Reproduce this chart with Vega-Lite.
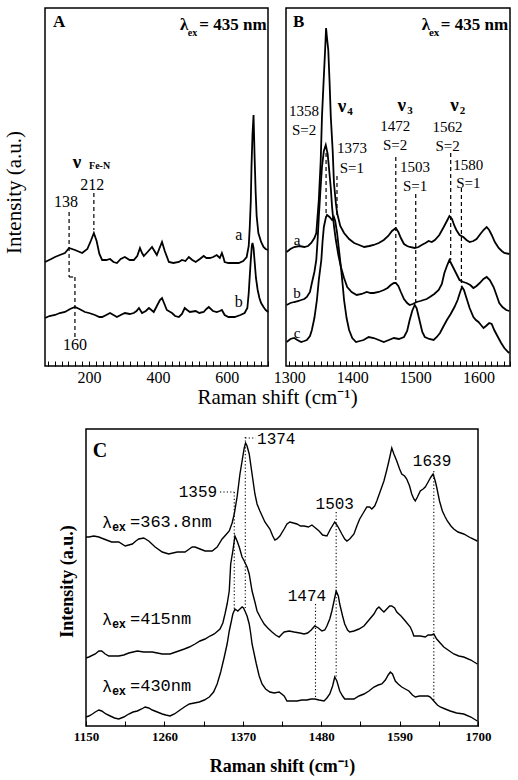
{
  "$schema": "https://vega.github.io/schema/vega-lite/v6.json",
  "background": "white",
  "padding": {"left": 2, "top": 7, "right": 0, "bottom": 0},
  "spacing": 20,
  "config": {
    "view": {"stroke": "black", "strokeWidth": 1.5},
    "axis": {"grid": false, "domain": false, "labelColor": "black", "titleColor": "black", "tickColor": "black", "labelFlush": false, "labelOverlap": false},
    "text": {"color": "black"},
    "line": {"color": "black"}
  },
  "datasets": {
    "specA": [
      {"x":72,"y":104,"s":"a"},{"x":90,"y":107,"s":"a"},{"x":101,"y":109,"s":"a"},{"x":115,"y":111,"s":"a"},{"x":130,"y":113,"s":"a"},{"x":142,"y":118,"s":"a"},{"x":159,"y":116,"s":"a"},{"x":180,"y":113,"s":"a"},{"x":195,"y":117,"s":"a"},{"x":205,"y":125,"s":"a"},{"x":214,"y":133,"s":"a"},{"x":222,"y":125,"s":"a"},{"x":230,"y":112,"s":"a"},{"x":238,"y":106,"s":"a"},{"x":250,"y":106,"s":"a"},{"x":261,"y":107,"s":"a"},{"x":271,"y":104,"s":"a"},{"x":281,"y":103,"s":"a"},{"x":292,"y":107,"s":"a"},{"x":304,"y":109,"s":"a"},{"x":318,"y":106,"s":"a"},{"x":330,"y":106,"s":"a"},{"x":340,"y":110,"s":"a"},{"x":348,"y":118,"s":"a"},{"x":354,"y":113,"s":"a"},{"x":359,"y":110,"s":"a"},{"x":370,"y":114,"s":"a"},{"x":383,"y":119,"s":"a"},{"x":390,"y":115,"s":"a"},{"x":397,"y":111,"s":"a"},{"x":405,"y":118,"s":"a"},{"x":412,"y":124,"s":"a"},{"x":420,"y":115,"s":"a"},{"x":432,"y":104,"s":"a"},{"x":445,"y":103,"s":"a"},{"x":461,"y":104,"s":"a"},{"x":470,"y":106,"s":"a"},{"x":480,"y":105,"s":"a"},{"x":490,"y":109,"s":"a"},{"x":500,"y":106,"s":"a"},{"x":510,"y":104,"s":"a"},{"x":522,"y":107,"s":"a"},{"x":533,"y":110,"s":"a"},{"x":541,"y":108,"s":"a"},{"x":551,"y":108,"s":"a"},{"x":561,"y":109,"s":"a"},{"x":571,"y":111,"s":"a"},{"x":580,"y":108,"s":"a"},{"x":586,"y":113,"s":"a"},{"x":590,"y":109,"s":"a"},{"x":594,"y":104,"s":"a"},{"x":605,"y":103,"s":"a"},{"x":620,"y":103,"s":"a"},{"x":635,"y":103,"s":"a"},{"x":648,"y":105,"s":"a"},{"x":658,"y":109,"s":"a"},{"x":664,"y":120,"s":"a"},{"x":667,"y":139,"s":"a"},{"x":670,"y":165,"s":"a"},{"x":672,"y":199,"s":"a"},{"x":675,"y":232,"s":"a"},{"x":678,"y":251,"s":"a"},{"x":681,"y":210,"s":"a"},{"x":684,"y":175,"s":"a"},{"x":687,"y":150,"s":"a"},{"x":692,"y":133,"s":"a"},{"x":700,"y":124,"s":"a"},{"x":707,"y":119,"s":"a"},{"x":713,"y":117,"s":"a"},{"x":720,"y":116,"s":"a"},
      {"x":72,"y":48,"s":"b"},{"x":85,"y":50,"s":"b"},{"x":101,"y":51,"s":"b"},{"x":115,"y":53,"s":"b"},{"x":130,"y":54,"s":"b"},{"x":145,"y":57,"s":"b"},{"x":159,"y":59,"s":"b"},{"x":172,"y":57,"s":"b"},{"x":188,"y":54,"s":"b"},{"x":200,"y":53,"s":"b"},{"x":217,"y":51,"s":"b"},{"x":230,"y":49,"s":"b"},{"x":238,"y":49,"s":"b"},{"x":250,"y":51,"s":"b"},{"x":261,"y":53,"s":"b"},{"x":271,"y":51,"s":"b"},{"x":281,"y":49,"s":"b"},{"x":292,"y":51,"s":"b"},{"x":304,"y":53,"s":"b"},{"x":318,"y":52,"s":"b"},{"x":330,"y":53,"s":"b"},{"x":338,"y":55,"s":"b"},{"x":345,"y":58,"s":"b"},{"x":354,"y":53,"s":"b"},{"x":365,"y":55,"s":"b"},{"x":374,"y":58,"s":"b"},{"x":381,"y":56,"s":"b"},{"x":388,"y":54,"s":"b"},{"x":397,"y":60,"s":"b"},{"x":406,"y":66,"s":"b"},{"x":412,"y":68,"s":"b"},{"x":419,"y":62,"s":"b"},{"x":426,"y":56,"s":"b"},{"x":441,"y":53,"s":"b"},{"x":450,"y":50,"s":"b"},{"x":461,"y":49,"s":"b"},{"x":470,"y":52,"s":"b"},{"x":478,"y":58,"s":"b"},{"x":485,"y":56,"s":"b"},{"x":493,"y":54,"s":"b"},{"x":510,"y":55,"s":"b"},{"x":520,"y":53,"s":"b"},{"x":533,"y":54,"s":"b"},{"x":541,"y":57,"s":"b"},{"x":548,"y":59,"s":"b"},{"x":560,"y":55,"s":"b"},{"x":571,"y":54,"s":"b"},{"x":580,"y":55,"s":"b"},{"x":586,"y":56,"s":"b"},{"x":594,"y":51,"s":"b"},{"x":605,"y":49,"s":"b"},{"x":623,"y":49,"s":"b"},{"x":640,"y":51,"s":"b"},{"x":652,"y":53,"s":"b"},{"x":660,"y":58,"s":"b"},{"x":664,"y":73,"s":"b"},{"x":667,"y":90,"s":"b"},{"x":670,"y":106,"s":"b"},{"x":673,"y":120,"s":"b"},{"x":675,"y":123,"s":"b"},{"x":678,"y":118,"s":"b"},{"x":681,"y":105,"s":"b"},{"x":685,"y":88,"s":"b"},{"x":690,"y":76,"s":"b"},{"x":695,"y":68,"s":"b"},{"x":700,"y":63,"s":"b"},{"x":707,"y":59,"s":"b"},{"x":713,"y":56,"s":"b"},{"x":720,"y":54,"s":"b"}
    ],
    "specB": [
      {"x":1296,"y":114,"s":"a"},{"x":1302,"y":117,"s":"a"},{"x":1308,"y":119,"s":"a"},{"x":1316,"y":120,"s":"a"},{"x":1324,"y":119,"s":"a"},{"x":1330,"y":120,"s":"a"},{"x":1335,"y":123,"s":"a"},{"x":1340,"y":128,"s":"a"},{"x":1343,"y":133,"s":"a"},{"x":1347,"y":166,"s":"a"},{"x":1350,"y":205,"s":"a"},{"x":1352,"y":249,"s":"a"},{"x":1355,"y":290,"s":"a"},{"x":1357,"y":316,"s":"a"},{"x":1358.5,"y":338,"s":"a"},{"x":1360,"y":328,"s":"a"},{"x":1362,"y":316,"s":"a"},{"x":1364,"y":285,"s":"a"},{"x":1366,"y":249,"s":"a"},{"x":1369,"y":215,"s":"a"},{"x":1371,"y":183,"s":"a"},{"x":1374,"y":163,"s":"a"},{"x":1376,"y":153,"s":"a"},{"x":1381,"y":140,"s":"a"},{"x":1387,"y":133,"s":"a"},{"x":1395,"y":127,"s":"a"},{"x":1403,"y":123,"s":"a"},{"x":1411,"y":121,"s":"a"},{"x":1419,"y":119,"s":"a"},{"x":1427,"y":120,"s":"a"},{"x":1434,"y":121,"s":"a"},{"x":1442,"y":123,"s":"a"},{"x":1450,"y":126,"s":"a"},{"x":1457,"y":130,"s":"a"},{"x":1463,"y":135,"s":"a"},{"x":1469,"y":138,"s":"a"},{"x":1473,"y":134,"s":"a"},{"x":1477,"y":128,"s":"a"},{"x":1482,"y":122,"s":"a"},{"x":1487,"y":120,"s":"a"},{"x":1491,"y":119,"s":"a"},{"x":1499,"y":118,"s":"a"},{"x":1505,"y":119,"s":"a"},{"x":1510,"y":121,"s":"a"},{"x":1516,"y":123,"s":"a"},{"x":1521,"y":125,"s":"a"},{"x":1526,"y":124,"s":"a"},{"x":1531,"y":126,"s":"a"},{"x":1538,"y":131,"s":"a"},{"x":1545,"y":139,"s":"a"},{"x":1550,"y":145,"s":"a"},{"x":1554,"y":150,"s":"a"},{"x":1558,"y":147,"s":"a"},{"x":1562,"y":140,"s":"a"},{"x":1565,"y":136,"s":"a"},{"x":1570,"y":131,"s":"a"},{"x":1576,"y":129,"s":"a"},{"x":1581,"y":126,"s":"a"},{"x":1586,"y":124,"s":"a"},{"x":1592,"y":125,"s":"a"},{"x":1597,"y":127,"s":"a"},{"x":1603,"y":132,"s":"a"},{"x":1608,"y":136,"s":"a"},{"x":1613,"y":139,"s":"a"},{"x":1617,"y":136,"s":"a"},{"x":1621,"y":131,"s":"a"},{"x":1626,"y":124,"s":"a"},{"x":1632,"y":118,"s":"a"},{"x":1637,"y":115,"s":"a"},{"x":1641,"y":113,"s":"a"},{"x":1649,"y":112,"s":"a"},
      {"x":1296,"y":61,"s":"b"},{"x":1302,"y":63,"s":"b"},{"x":1308,"y":64,"s":"b"},{"x":1315,"y":65,"s":"b"},{"x":1319,"y":66,"s":"b"},{"x":1324,"y":67,"s":"b"},{"x":1328,"y":69,"s":"b"},{"x":1333,"y":74,"s":"b"},{"x":1336,"y":83,"s":"b"},{"x":1340,"y":94,"s":"b"},{"x":1343,"y":106,"s":"b"},{"x":1345,"y":125,"s":"b"},{"x":1347,"y":149,"s":"b"},{"x":1350,"y":180,"s":"b"},{"x":1352,"y":199,"s":"b"},{"x":1355,"y":215,"s":"b"},{"x":1358,"y":221,"s":"b"},{"x":1361,"y":212,"s":"b"},{"x":1363,"y":199,"s":"b"},{"x":1366,"y":178,"s":"b"},{"x":1368,"y":159,"s":"b"},{"x":1371,"y":140,"s":"b"},{"x":1374,"y":126,"s":"b"},{"x":1378,"y":111,"s":"b"},{"x":1382,"y":99,"s":"b"},{"x":1387,"y":88,"s":"b"},{"x":1392,"y":79,"s":"b"},{"x":1399,"y":74,"s":"b"},{"x":1407,"y":71,"s":"b"},{"x":1415,"y":72,"s":"b"},{"x":1423,"y":74,"s":"b"},{"x":1429,"y":73,"s":"b"},{"x":1434,"y":73,"s":"b"},{"x":1442,"y":74,"s":"b"},{"x":1450,"y":76,"s":"b"},{"x":1456,"y":78,"s":"b"},{"x":1461,"y":81,"s":"b"},{"x":1466,"y":83,"s":"b"},{"x":1469,"y":83,"s":"b"},{"x":1473,"y":80,"s":"b"},{"x":1477,"y":74,"s":"b"},{"x":1482,"y":67,"s":"b"},{"x":1487,"y":63,"s":"b"},{"x":1491,"y":61,"s":"b"},{"x":1496,"y":62,"s":"b"},{"x":1502,"y":64,"s":"b"},{"x":1508,"y":65,"s":"b"},{"x":1513,"y":66,"s":"b"},{"x":1518,"y":67,"s":"b"},{"x":1523,"y":69,"s":"b"},{"x":1530,"y":72,"s":"b"},{"x":1537,"y":76,"s":"b"},{"x":1542,"y":82,"s":"b"},{"x":1546,"y":93,"s":"b"},{"x":1550,"y":100,"s":"b"},{"x":1554,"y":106,"s":"b"},{"x":1558,"y":101,"s":"b"},{"x":1562,"y":96,"s":"b"},{"x":1566,"y":91,"s":"b"},{"x":1570,"y":86,"s":"b"},{"x":1576,"y":84,"s":"b"},{"x":1581,"y":83,"s":"b"},{"x":1587,"y":81,"s":"b"},{"x":1592,"y":78,"s":"b"},{"x":1597,"y":80,"s":"b"},{"x":1602,"y":83,"s":"b"},{"x":1608,"y":87,"s":"b"},{"x":1613,"y":89,"s":"b"},{"x":1618,"y":86,"s":"b"},{"x":1624,"y":79,"s":"b"},{"x":1628,"y":72,"s":"b"},{"x":1633,"y":63,"s":"b"},{"x":1638,"y":59,"s":"b"},{"x":1644,"y":56,"s":"b"},{"x":1649,"y":55,"s":"b"},
      {"x":1296,"y":24,"s":"c"},{"x":1302,"y":27,"s":"c"},{"x":1308,"y":28,"s":"c"},{"x":1313,"y":26,"s":"c"},{"x":1319,"y":24,"s":"c"},{"x":1324,"y":25,"s":"c"},{"x":1328,"y":26,"s":"c"},{"x":1333,"y":30,"s":"c"},{"x":1336,"y":36,"s":"c"},{"x":1340,"y":48,"s":"c"},{"x":1344,"y":66,"s":"c"},{"x":1347,"y":86,"s":"c"},{"x":1351,"y":106,"s":"c"},{"x":1353,"y":125,"s":"c"},{"x":1355,"y":139,"s":"c"},{"x":1358,"y":148,"s":"c"},{"x":1360,"y":151,"s":"c"},{"x":1364,"y":149,"s":"c"},{"x":1368,"y":146,"s":"c"},{"x":1371,"y":149,"s":"c"},{"x":1373,"y":145,"s":"c"},{"x":1376,"y":133,"s":"c"},{"x":1379,"y":116,"s":"c"},{"x":1382,"y":99,"s":"c"},{"x":1385,"y":80,"s":"c"},{"x":1387,"y":66,"s":"c"},{"x":1391,"y":48,"s":"c"},{"x":1395,"y":36,"s":"c"},{"x":1400,"y":28,"s":"c"},{"x":1406,"y":24,"s":"c"},{"x":1412,"y":25,"s":"c"},{"x":1418,"y":26,"s":"c"},{"x":1426,"y":29,"s":"c"},{"x":1434,"y":28,"s":"c"},{"x":1442,"y":26,"s":"c"},{"x":1450,"y":24,"s":"c"},{"x":1458,"y":26,"s":"c"},{"x":1466,"y":28,"s":"c"},{"x":1474,"y":27,"s":"c"},{"x":1482,"y":29,"s":"c"},{"x":1487,"y":35,"s":"c"},{"x":1491,"y":46,"s":"c"},{"x":1495,"y":55,"s":"c"},{"x":1499,"y":61,"s":"c"},{"x":1502,"y":58,"s":"c"},{"x":1505,"y":50,"s":"c"},{"x":1508,"y":42,"s":"c"},{"x":1511,"y":34,"s":"c"},{"x":1515,"y":29,"s":"c"},{"x":1522,"y":27,"s":"c"},{"x":1529,"y":26,"s":"c"},{"x":1534,"y":29,"s":"c"},{"x":1539,"y":33,"s":"c"},{"x":1544,"y":39,"s":"c"},{"x":1550,"y":46,"s":"c"},{"x":1556,"y":52,"s":"c"},{"x":1562,"y":59,"s":"c"},{"x":1567,"y":66,"s":"c"},{"x":1571,"y":74,"s":"c"},{"x":1574,"y":79,"s":"c"},{"x":1577,"y":76,"s":"c"},{"x":1581,"y":68,"s":"c"},{"x":1586,"y":58,"s":"c"},{"x":1592,"y":49,"s":"c"},{"x":1596,"y":46,"s":"c"},{"x":1600,"y":44,"s":"c"},{"x":1604,"y":41,"s":"c"},{"x":1608,"y":38,"s":"c"},{"x":1612,"y":40,"s":"c"},{"x":1617,"y":43,"s":"c"},{"x":1621,"y":42,"s":"c"},{"x":1625,"y":36,"s":"c"},{"x":1630,"y":30,"s":"c"},{"x":1636,"y":23,"s":"c"},{"x":1641,"y":18,"s":"c"},{"x":1647,"y":14,"s":"c"},{"x":1649,"y":13,"s":"c"}
    ],
    "specC": [
      {"x":1150,"y":189,"s":"t"},{"x":1154,"y":189,"s":"t"},{"x":1161,"y":190,"s":"t"},{"x":1168,"y":189,"s":"t"},{"x":1175,"y":187,"s":"t"},{"x":1186,"y":184,"s":"t"},{"x":1196,"y":184,"s":"t"},{"x":1205,"y":180,"s":"t"},{"x":1210,"y":181,"s":"t"},{"x":1215,"y":182,"s":"t"},{"x":1220,"y":185,"s":"t"},{"x":1224,"y":187,"s":"t"},{"x":1231,"y":188,"s":"t"},{"x":1238,"y":185,"s":"t"},{"x":1247,"y":179,"s":"t"},{"x":1257,"y":174,"s":"t"},{"x":1266,"y":172,"s":"t"},{"x":1278,"y":174,"s":"t"},{"x":1289,"y":174,"s":"t"},{"x":1295,"y":177,"s":"t"},{"x":1299,"y":179,"s":"t"},{"x":1303,"y":179,"s":"t"},{"x":1310,"y":177,"s":"t"},{"x":1317,"y":175,"s":"t"},{"x":1327,"y":175,"s":"t"},{"x":1334,"y":179,"s":"t"},{"x":1341,"y":187,"s":"t"},{"x":1346,"y":191,"s":"t"},{"x":1351,"y":195,"s":"t"},{"x":1355,"y":203,"s":"t"},{"x":1358,"y":212,"s":"t"},{"x":1362,"y":229,"s":"t"},{"x":1366,"y":252,"s":"t"},{"x":1369,"y":265,"s":"t"},{"x":1372,"y":278,"s":"t"},{"x":1374,"y":283,"s":"t"},{"x":1376,"y":280,"s":"t"},{"x":1379,"y":272,"s":"t"},{"x":1383,"y":252,"s":"t"},{"x":1387,"y":232,"s":"t"},{"x":1390,"y":222,"s":"t"},{"x":1394,"y":215,"s":"t"},{"x":1401,"y":204,"s":"t"},{"x":1408,"y":197,"s":"t"},{"x":1412,"y":190,"s":"t"},{"x":1415,"y":186,"s":"t"},{"x":1418,"y":187,"s":"t"},{"x":1422,"y":190,"s":"t"},{"x":1428,"y":197,"s":"t"},{"x":1432,"y":202,"s":"t"},{"x":1436,"y":204,"s":"t"},{"x":1441,"y":203,"s":"t"},{"x":1446,"y":202,"s":"t"},{"x":1451,"y":200,"s":"t"},{"x":1456,"y":200,"s":"t"},{"x":1462,"y":199,"s":"t"},{"x":1467,"y":201,"s":"t"},{"x":1472,"y":198,"s":"t"},{"x":1477,"y":195,"s":"t"},{"x":1482,"y":191,"s":"t"},{"x":1488,"y":190,"s":"t"},{"x":1493,"y":197,"s":"t"},{"x":1499,"y":204,"s":"t"},{"x":1503,"y":200,"s":"t"},{"x":1509,"y":192,"s":"t"},{"x":1513,"y":187,"s":"t"},{"x":1516,"y":185,"s":"t"},{"x":1520,"y":187,"s":"t"},{"x":1526,"y":192,"s":"t"},{"x":1530,"y":200,"s":"t"},{"x":1534,"y":207,"s":"t"},{"x":1539,"y":213,"s":"t"},{"x":1544,"y":219,"s":"t"},{"x":1548,"y":219,"s":"t"},{"x":1551,"y":217,"s":"t"},{"x":1555,"y":220,"s":"t"},{"x":1558,"y":225,"s":"t"},{"x":1563,"y":235,"s":"t"},{"x":1568,"y":245,"s":"t"},{"x":1572,"y":256,"s":"t"},{"x":1575,"y":265,"s":"t"},{"x":1579,"y":278,"s":"t"},{"x":1582,"y":272,"s":"t"},{"x":1586,"y":265,"s":"t"},{"x":1590,"y":257,"s":"t"},{"x":1593,"y":252,"s":"t"},{"x":1597,"y":250,"s":"t"},{"x":1600,"y":247,"s":"t"},{"x":1604,"y":240,"s":"t"},{"x":1607,"y":232,"s":"t"},{"x":1610,"y":227,"s":"t"},{"x":1612,"y":225,"s":"t"},{"x":1615,"y":229,"s":"t"},{"x":1619,"y":235,"s":"t"},{"x":1623,"y":237,"s":"t"},{"x":1626,"y":239,"s":"t"},{"x":1630,"y":244,"s":"t"},{"x":1634,"y":249,"s":"t"},{"x":1637,"y":252,"s":"t"},{"x":1640,"y":245,"s":"t"},{"x":1642,"y":239,"s":"t"},{"x":1646,"y":225,"s":"t"},{"x":1650,"y":215,"s":"t"},{"x":1654,"y":209,"s":"t"},{"x":1657,"y":205,"s":"t"},{"x":1662,"y":200,"s":"t"},{"x":1666,"y":197,"s":"t"},{"x":1672,"y":194,"s":"t"},{"x":1680,"y":192,"s":"t"},{"x":1690,"y":188,"s":"t"},{"x":1699,"y":185,"s":"t"},
      {"x":1150,"y":68,"s":"m"},{"x":1154,"y":69,"s":"m"},{"x":1163,"y":72,"s":"m"},{"x":1168,"y":75,"s":"m"},{"x":1172,"y":75,"s":"m"},{"x":1177,"y":72,"s":"m"},{"x":1182,"y":70,"s":"m"},{"x":1190,"y":70,"s":"m"},{"x":1196,"y":70,"s":"m"},{"x":1203,"y":71,"s":"m"},{"x":1210,"y":73,"s":"m"},{"x":1216,"y":74,"s":"m"},{"x":1222,"y":75,"s":"m"},{"x":1231,"y":74,"s":"m"},{"x":1237,"y":74,"s":"m"},{"x":1243,"y":74,"s":"m"},{"x":1250,"y":73,"s":"m"},{"x":1257,"y":72,"s":"m"},{"x":1268,"y":72,"s":"m"},{"x":1280,"y":75,"s":"m"},{"x":1288,"y":77,"s":"m"},{"x":1295,"y":79,"s":"m"},{"x":1303,"y":82,"s":"m"},{"x":1310,"y":85,"s":"m"},{"x":1317,"y":87,"s":"m"},{"x":1324,"y":90,"s":"m"},{"x":1330,"y":92,"s":"m"},{"x":1338,"y":97,"s":"m"},{"x":1342,"y":103,"s":"m"},{"x":1345,"y":112,"s":"m"},{"x":1348,"y":122,"s":"m"},{"x":1351,"y":135,"s":"m"},{"x":1353,"y":162,"s":"m"},{"x":1356,"y":175,"s":"m"},{"x":1359,"y":190,"s":"m"},{"x":1362,"y":185,"s":"m"},{"x":1365,"y":179,"s":"m"},{"x":1369,"y":169,"s":"m"},{"x":1372,"y":165,"s":"m"},{"x":1376,"y":159,"s":"m"},{"x":1379,"y":152,"s":"m"},{"x":1383,"y":135,"s":"m"},{"x":1387,"y":124,"s":"m"},{"x":1390,"y":115,"s":"m"},{"x":1395,"y":108,"s":"m"},{"x":1400,"y":102,"s":"m"},{"x":1405,"y":98,"s":"m"},{"x":1411,"y":94,"s":"m"},{"x":1416,"y":91,"s":"m"},{"x":1421,"y":89,"s":"m"},{"x":1425,"y":92,"s":"m"},{"x":1428,"y":94,"s":"m"},{"x":1435,"y":95,"s":"m"},{"x":1442,"y":94,"s":"m"},{"x":1450,"y":93,"s":"m"},{"x":1456,"y":92,"s":"m"},{"x":1461,"y":93,"s":"m"},{"x":1466,"y":96,"s":"m"},{"x":1471,"y":100,"s":"m"},{"x":1476,"y":98,"s":"m"},{"x":1481,"y":95,"s":"m"},{"x":1485,"y":96,"s":"m"},{"x":1488,"y":100,"s":"m"},{"x":1492,"y":107,"s":"m"},{"x":1495,"y":115,"s":"m"},{"x":1498,"y":125,"s":"m"},{"x":1501,"y":135,"s":"m"},{"x":1504,"y":130,"s":"m"},{"x":1506,"y":122,"s":"m"},{"x":1510,"y":110,"s":"m"},{"x":1513,"y":102,"s":"m"},{"x":1517,"y":96,"s":"m"},{"x":1520,"y":94,"s":"m"},{"x":1526,"y":95,"s":"m"},{"x":1533,"y":97,"s":"m"},{"x":1540,"y":100,"s":"m"},{"x":1547,"y":106,"s":"m"},{"x":1554,"y":112,"s":"m"},{"x":1558,"y":117,"s":"m"},{"x":1561,"y":119,"s":"m"},{"x":1565,"y":116,"s":"m"},{"x":1568,"y":114,"s":"m"},{"x":1572,"y":117,"s":"m"},{"x":1576,"y":120,"s":"m"},{"x":1579,"y":120,"s":"m"},{"x":1583,"y":118,"s":"m"},{"x":1586,"y":114,"s":"m"},{"x":1592,"y":110,"s":"m"},{"x":1598,"y":105,"s":"m"},{"x":1605,"y":99,"s":"m"},{"x":1608,"y":94,"s":"m"},{"x":1610,"y":90,"s":"m"},{"x":1615,"y":90,"s":"m"},{"x":1619,"y":90,"s":"m"},{"x":1626,"y":89,"s":"m"},{"x":1630,"y":91,"s":"m"},{"x":1635,"y":91,"s":"m"},{"x":1638,"y":92,"s":"m"},{"x":1642,"y":87,"s":"m"},{"x":1647,"y":83,"s":"m"},{"x":1652,"y":79,"s":"m"},{"x":1660,"y":75,"s":"m"},{"x":1666,"y":72,"s":"m"},{"x":1673,"y":70,"s":"m"},{"x":1680,"y":69,"s":"m"},{"x":1690,"y":66,"s":"m"},{"x":1699,"y":62,"s":"m"},
      {"x":1150,"y":9,"s":"l"},{"x":1154,"y":10,"s":"l"},{"x":1159,"y":12,"s":"l"},{"x":1163,"y":14,"s":"l"},{"x":1168,"y":16,"s":"l"},{"x":1172,"y":15,"s":"l"},{"x":1178,"y":12,"s":"l"},{"x":1184,"y":10,"s":"l"},{"x":1190,"y":8,"s":"l"},{"x":1196,"y":7,"s":"l"},{"x":1203,"y":9,"s":"l"},{"x":1210,"y":12,"s":"l"},{"x":1216,"y":14,"s":"l"},{"x":1222,"y":15,"s":"l"},{"x":1228,"y":17,"s":"l"},{"x":1233,"y":19,"s":"l"},{"x":1238,"y":18,"s":"l"},{"x":1243,"y":16,"s":"l"},{"x":1250,"y":14,"s":"l"},{"x":1257,"y":12,"s":"l"},{"x":1262,"y":11,"s":"l"},{"x":1268,"y":10,"s":"l"},{"x":1274,"y":12,"s":"l"},{"x":1280,"y":15,"s":"l"},{"x":1288,"y":19,"s":"l"},{"x":1295,"y":22,"s":"l"},{"x":1302,"y":23,"s":"l"},{"x":1309,"y":24,"s":"l"},{"x":1316,"y":26,"s":"l"},{"x":1323,"y":29,"s":"l"},{"x":1329,"y":34,"s":"l"},{"x":1334,"y":42,"s":"l"},{"x":1339,"y":54,"s":"l"},{"x":1344,"y":69,"s":"l"},{"x":1348,"y":82,"s":"l"},{"x":1351,"y":95,"s":"l"},{"x":1354,"y":105,"s":"l"},{"x":1356,"y":112,"s":"l"},{"x":1359,"y":117,"s":"l"},{"x":1361,"y":116,"s":"l"},{"x":1363,"y":115,"s":"l"},{"x":1366,"y":117,"s":"l"},{"x":1369,"y":119,"s":"l"},{"x":1371,"y":118,"s":"l"},{"x":1373,"y":115,"s":"l"},{"x":1376,"y":110,"s":"l"},{"x":1379,"y":102,"s":"l"},{"x":1381,"y":93,"s":"l"},{"x":1383,"y":82,"s":"l"},{"x":1386,"y":72,"s":"l"},{"x":1389,"y":62,"s":"l"},{"x":1393,"y":50,"s":"l"},{"x":1397,"y":42,"s":"l"},{"x":1402,"y":37,"s":"l"},{"x":1408,"y":34,"s":"l"},{"x":1414,"y":33,"s":"l"},{"x":1421,"y":34,"s":"l"},{"x":1428,"y":30,"s":"l"},{"x":1432,"y":25,"s":"l"},{"x":1439,"y":25,"s":"l"},{"x":1446,"y":25,"s":"l"},{"x":1453,"y":26,"s":"l"},{"x":1460,"y":26,"s":"l"},{"x":1466,"y":27,"s":"l"},{"x":1471,"y":27,"s":"l"},{"x":1477,"y":26,"s":"l"},{"x":1484,"y":25,"s":"l"},{"x":1488,"y":28,"s":"l"},{"x":1492,"y":32,"s":"l"},{"x":1496,"y":40,"s":"l"},{"x":1499,"y":49,"s":"l"},{"x":1502,"y":45,"s":"l"},{"x":1506,"y":35,"s":"l"},{"x":1510,"y":30,"s":"l"},{"x":1513,"y":27,"s":"l"},{"x":1519,"y":27,"s":"l"},{"x":1526,"y":27,"s":"l"},{"x":1533,"y":30,"s":"l"},{"x":1540,"y":32,"s":"l"},{"x":1547,"y":35,"s":"l"},{"x":1554,"y":39,"s":"l"},{"x":1560,"y":41,"s":"l"},{"x":1565,"y":42,"s":"l"},{"x":1570,"y":46,"s":"l"},{"x":1574,"y":51,"s":"l"},{"x":1577,"y":54,"s":"l"},{"x":1580,"y":52,"s":"l"},{"x":1584,"y":45,"s":"l"},{"x":1588,"y":42,"s":"l"},{"x":1593,"y":39,"s":"l"},{"x":1598,"y":37,"s":"l"},{"x":1603,"y":35,"s":"l"},{"x":1608,"y":31,"s":"l"},{"x":1612,"y":29,"s":"l"},{"x":1618,"y":30,"s":"l"},{"x":1624,"y":30,"s":"l"},{"x":1630,"y":30,"s":"l"},{"x":1633,"y":29,"s":"l"},{"x":1638,"y":25,"s":"l"},{"x":1643,"y":21,"s":"l"},{"x":1647,"y":19,"s":"l"},{"x":1654,"y":17,"s":"l"},{"x":1661,"y":15,"s":"l"},{"x":1670,"y":13,"s":"l"},{"x":1680,"y":12,"s":"l"},{"x":1690,"y":9,"s":"l"},{"x":1699,"y":5,"s":"l"}
    ],
    "rulesA": [
      {"x":214,"y":173,"x2":214,"y2":136},
      {"x":142,"y":154,"x2":142,"y2":89},
      {"x":142,"y":89,"x2":159,"y2":89},
      {"x":159,"y":89,"x2":159,"y2":29}
    ],
    "rulesB": [
      {"x":1358.5,"y":213,"x2":1358.5,"y2":149},
      {"x":1375.8,"y":190,"x2":1375.8,"y2":148},
      {"x":1469,"y":209,"x2":1469,"y2":83},
      {"x":1500.6,"y":172,"x2":1500.6,"y2":63},
      {"x":1556,"y":213,"x2":1556,"y2":106},
      {"x":1573,"y":178,"x2":1573,"y2":79}
    ],
    "rulesC": [
      {"x":1373.5,"y":289,"x2":1373.5,"y2":118},
      {"x":1373.5,"y":288,"x2":1388,"y2":288},
      {"x":1358,"y":234,"x2":1358,"y2":117},
      {"x":1338,"y":234,"x2":1358,"y2":234},
      {"x":1501,"y":214,"x2":1501,"y2":49},
      {"x":1472,"y":122,"x2":1472,"y2":27},
      {"x":1638,"y":255,"x2":1638,"y2":25}
    ],
    "textA": [
      {"x":95.6,"y":344,"t":"A","g":"head","al":"left"},
      {"x":464,"y":341,"t":"λ","g":"head","al":"left"},
      {"x":487,"y":333,"t":"ex","g":"sub","al":"left"},
      {"x":716,"y":341,"t":"= 435 nm","g":"head","al":"right"},
      {"x":165,"y":204,"t":"ν","g":"nu","al":"center"},
      {"x":200,"y":200,"t":"Fe-N","g":"sub","al":"left"},
      {"x":209,"y":181,"t":"212","g":"num","al":"center"},
      {"x":133,"y":164,"t":"138","g":"num","al":"center"},
      {"x":159,"y":21,"t":"160","g":"num","al":"center"},
      {"x":635,"y":131,"t":"a","g":"num","al":"center"},
      {"x":635,"y":64,"t":"b","g":"num","al":"center"}
    ],
    "textB": [
      {"x":1306,"y":344,"t":"B","g":"head","al":"left"},
      {"x":1510,"y":341,"t":"λ","g":"head","al":"left"},
      {"x":1521.5,"y":333,"t":"ex","g":"sub","al":"left"},
      {"x":1647,"y":341,"t":"= 435 nm","g":"head","al":"right"},
      {"x":1383.7,"y":260,"t":"ν","g":"nu","al":"center"},
      {"x":1392,"y":254,"t":"4","g":"sub","al":"left"},
      {"x":1478.5,"y":261,"t":"ν","g":"nu","al":"center"},
      {"x":1487,"y":255,"t":"3","g":"sub","al":"left"},
      {"x":1562,"y":261,"t":"ν","g":"nu","al":"center"},
      {"x":1570.5,"y":255,"t":"2","g":"sub","al":"left"},
      {"x":1323.7,"y":255,"t":"1358","g":"num","al":"center"},
      {"x":1323.7,"y":236,"t":"S=2","g":"num","al":"center"},
      {"x":1399.5,"y":218,"t":"1373","g":"num","al":"center"},
      {"x":1399.5,"y":198,"t":"S=1","g":"num","al":"center"},
      {"x":1468,"y":240,"t":"1472","g":"num","al":"center"},
      {"x":1468,"y":221,"t":"S=2","g":"num","al":"center"},
      {"x":1499.5,"y":199,"t":"1503","g":"num","al":"center"},
      {"x":1499.5,"y":180,"t":"S=1","g":"num","al":"center"},
      {"x":1551,"y":239,"t":"1562","g":"num","al":"center"},
      {"x":1551,"y":220,"t":"S=2","g":"num","al":"center"},
      {"x":1584,"y":201,"t":"1580","g":"num","al":"center"},
      {"x":1584,"y":183,"t":"S=1","g":"num","al":"center"},
      {"x":1312.6,"y":126,"t":"a","g":"num","al":"center"},
      {"x":1312.6,"y":73,"t":"b","g":"num","al":"center"},
      {"x":1312.6,"y":33,"t":"c","g":"num","al":"center"}
    ],
    "textC": [
      {"x":1169.6,"y":275,"t":"C","g":"head","al":"center"},
      {"x":1390,"y":287,"t":"1374","g":"num","al":"left"},
      {"x":1334,"y":234,"t":"1359","g":"num","al":"right"},
      {"x":1499,"y":222,"t":"1503","g":"num","al":"center"},
      {"x":1460,"y":130,"t":"1474","g":"num","al":"center"},
      {"x":1635.5,"y":265,"t":"1639","g":"num","al":"center"},
      {"x":1172.4,"y":203,"t":"λ","g":"lam","al":"left"},
      {"x":1187,"y":199,"t":"ex","g":"sub","al":"left"},
      {"x":1211.7,"y":204,"t":"=363.8nm","g":"lam","al":"left"},
      {"x":1172.4,"y":106,"t":"λ","g":"lam","al":"left"},
      {"x":1187,"y":102,"t":"ex","g":"sub","al":"left"},
      {"x":1211.7,"y":107,"t":"=415nm","g":"lam","al":"left"},
      {"x":1172.4,"y":39,"t":"λ","g":"lam","al":"left"},
      {"x":1187,"y":35,"t":"ex","g":"sub","al":"left"},
      {"x":1211.7,"y":40,"t":"=430nm","g":"lam","al":"left"}
    ]
  },
  "vconcat": [
    {
      "hconcat": [
        {
          "width": 223,
          "height": 358,
          "encoding": {
            "x": {"field": "x", "type": "quantitative", "scale": {"domain": [72, 720], "nice": false, "zero": false},
              "axis": {"values": [80,100,120,140,160,180,200,220,240,260,280,300,320,340,360,380,400,420,440,460,480,500,520,540,560,580,600,620,640,660,680,700,720],
                "labelExpr": "datum.value % 200 === 0 ? datum.label : ''", "format": "d", "tickSize": -5, "tickWidth": 1, "labelFont": "Liberation Serif", "labelFontSize": 16, "labelPadding": 8,
                "title": "Raman shift (cm⁻¹)", "titleFont": "Liberation Serif", "titleFontSize": 21, "titleFontWeight": "normal", "titleX": 232, "titleY": 31, "titleBaseline": "middle"}},
            "y": {"field": "y", "type": "quantitative", "scale": {"domain": [0, 358], "nice": false},
              "axis": {"labels": false, "ticks": false, "title": "Intensity (a.u.)", "titleFont": "Liberation Serif", "titleFontSize": 21, "titleFontWeight": "normal", "titleX": -31, "titleY": 184, "titleBaseline": "middle"}}
          },
          "layer": [
            {"data": {"name": "specA"}, "mark": {"type": "line", "color": "black", "strokeWidth": 1.8}, "encoding": {"detail": {"field": "s"}}},
            {"data": {"name": "rulesA"}, "mark": {"type": "rule", "color": "black", "strokeWidth": 1.2, "strokeDash": [4, 3]}, "encoding": {"x2": {"field": "x2"}, "y2": {"field": "y2"}}},
            {"data": {"name": "textA"}, "transform": [{"filter": "datum.g == 'head' && datum.al == 'left'"}], "mark": {"type": "text", "font": "Liberation Serif", "fontWeight": "bold", "fontSize": 17, "align": "left", "baseline": "middle"}, "encoding": {"text": {"field": "t"}}},
            {"data": {"name": "textA"}, "transform": [{"filter": "datum.g == 'head' && datum.al == 'right'"}], "mark": {"type": "text", "font": "Liberation Serif", "fontWeight": "bold", "fontSize": 17, "align": "right", "baseline": "middle"}, "encoding": {"text": {"field": "t"}}},
            {"data": {"name": "textA"}, "transform": [{"filter": "datum.g == 'sub'"}], "mark": {"type": "text", "font": "Liberation Serif", "fontWeight": "bold", "fontSize": 10, "align": "left", "baseline": "middle"}, "encoding": {"text": {"field": "t"}}},
            {"data": {"name": "textA"}, "transform": [{"filter": "datum.g == 'nu'"}], "mark": {"type": "text", "font": "Liberation Serif", "fontWeight": "bold", "fontSize": 19, "align": "center", "baseline": "middle"}, "encoding": {"text": {"field": "t"}}},
            {"data": {"name": "textA"}, "transform": [{"filter": "datum.g == 'num'"}], "mark": {"type": "text", "font": "Liberation Serif", "fontSize": 16, "align": "center", "baseline": "middle"}, "encoding": {"text": {"field": "t"}}}
          ]
        },
        {
          "width": 224,
          "height": 358,
          "encoding": {
            "x": {"field": "x", "type": "quantitative", "scale": {"domain": [1295, 1650], "nice": false, "zero": false},
              "axis": {"values": [1300,1310,1320,1330,1340,1350,1360,1370,1380,1390,1400,1410,1420,1430,1440,1450,1460,1470,1480,1490,1500,1510,1520,1530,1540,1550,1560,1570,1580,1590,1600,1610,1620,1630,1640,1650],
                "labelExpr": "datum.value % 100 === 0 ? datum.label : ''", "format": "d", "tickSize": -5, "tickWidth": 1, "labelFont": "Liberation Serif", "labelFontSize": 16, "labelPadding": 8, "title": null}},
            "y": {"field": "y", "type": "quantitative", "scale": {"domain": [0, 358], "nice": false}, "axis": null}
          },
          "layer": [
            {"data": {"name": "specB"}, "mark": {"type": "line", "color": "black", "strokeWidth": 1.8}, "encoding": {"detail": {"field": "s"}}},
            {"data": {"name": "rulesB"}, "mark": {"type": "rule", "color": "black", "strokeWidth": 1.2, "strokeDash": [4, 3]}, "encoding": {"x2": {"field": "x2"}, "y2": {"field": "y2"}}},
            {"data": {"name": "textB"}, "transform": [{"filter": "datum.g == 'head' && datum.al == 'left'"}], "mark": {"type": "text", "font": "Liberation Serif", "fontWeight": "bold", "fontSize": 17, "align": "left", "baseline": "middle"}, "encoding": {"text": {"field": "t"}}},
            {"data": {"name": "textB"}, "transform": [{"filter": "datum.g == 'head' && datum.al == 'right'"}], "mark": {"type": "text", "font": "Liberation Serif", "fontWeight": "bold", "fontSize": 17, "align": "right", "baseline": "middle"}, "encoding": {"text": {"field": "t"}}},
            {"data": {"name": "textB"}, "transform": [{"filter": "datum.g == 'sub'"}], "mark": {"type": "text", "font": "Liberation Serif", "fontWeight": "bold", "fontSize": 11, "align": "left", "baseline": "middle"}, "encoding": {"text": {"field": "t"}}},
            {"data": {"name": "textB"}, "transform": [{"filter": "datum.g == 'nu'"}], "mark": {"type": "text", "font": "Liberation Serif", "fontWeight": "bold", "fontSize": 19, "align": "center", "baseline": "middle"}, "encoding": {"text": {"field": "t"}}},
            {"data": {"name": "textB"}, "transform": [{"filter": "datum.g == 'num'"}], "mark": {"type": "text", "font": "Liberation Serif", "fontSize": 15, "align": "center", "baseline": "middle"}, "encoding": {"text": {"field": "t"}}}
          ]
        }
      ],
      "spacing": 18,
      "bounds": "flush"
    },
    {
      "hconcat": [
        {"width": 1, "height": 297, "data": {"values": [{"k": 1}]}, "mark": {"type": "text", "text": ""}, "encoding": {}, "view": {"stroke": null}},
        {
          "width": 392,
          "height": 297,
          "encoding": {
            "x": {"field": "x", "type": "quantitative", "scale": {"domain": [1150, 1700], "nice": false, "zero": false},
              "axis": {"values": [1150,1205,1260,1315,1370,1425,1480,1535,1590,1645,1700],
                "labelExpr": "(datum.value - 1150) % 110 === 0 ? datum.label : ''", "format": "d", "tickSize": -5, "tickWidth": 1, "labelFont": "Liberation Serif", "labelFontWeight": "bold", "labelFontSize": 13, "labelPadding": 9,
                "title": "Raman shift (cm⁻¹)", "titleFont": "Liberation Serif", "titleFontSize": 18, "titleFontWeight": "bold", "titleY": 40, "titleBaseline": "middle"}},
            "y": {"field": "y", "type": "quantitative", "scale": {"domain": [0, 297], "nice": false},
              "axis": {"labels": false, "ticks": false, "title": "Intensity (a.u.)", "titleFont": "Liberation Serif", "titleFontSize": 18, "titleFontWeight": "bold", "titleX": -19, "titleY": 152, "titleBaseline": "middle"}}
          },
          "layer": [
            {"data": {"name": "specC"}, "mark": {"type": "line", "color": "black", "strokeWidth": 1.4}, "encoding": {"detail": {"field": "s"}}},
            {"data": {"name": "rulesC"}, "mark": {"type": "rule", "color": "black", "strokeWidth": 1.1, "strokeDash": [1.2, 2.2]}, "encoding": {"x2": {"field": "x2"}, "y2": {"field": "y2"}}},
            {"data": {"name": "textC"}, "transform": [{"filter": "datum.g == 'head'"}], "mark": {"type": "text", "font": "Liberation Serif", "fontWeight": "bold", "fontSize": 20, "align": "center", "baseline": "middle"}, "encoding": {"text": {"field": "t"}}},
            {"data": {"name": "textC"}, "transform": [{"filter": "datum.g == 'num' && datum.al == 'left'"}], "mark": {"type": "text", "font": "Liberation Mono", "fontSize": 16, "align": "left", "baseline": "middle"}, "encoding": {"text": {"field": "t"}}},
            {"data": {"name": "textC"}, "transform": [{"filter": "datum.g == 'num' && datum.al == 'right'"}], "mark": {"type": "text", "font": "Liberation Mono", "fontSize": 16, "align": "right", "baseline": "middle"}, "encoding": {"text": {"field": "t"}}},
            {"data": {"name": "textC"}, "transform": [{"filter": "datum.g == 'num' && datum.al == 'center'"}], "mark": {"type": "text", "font": "Liberation Mono", "fontSize": 16, "align": "center", "baseline": "middle"}, "encoding": {"text": {"field": "t"}}},
            {"data": {"name": "textC"}, "transform": [{"filter": "datum.g == 'lam'"}], "mark": {"type": "text", "font": "Liberation Mono", "fontSize": 17, "align": "left", "baseline": "middle"}, "encoding": {"text": {"field": "t"}}},
            {"data": {"name": "textC"}, "transform": [{"filter": "datum.g == 'sub'"}], "mark": {"type": "text", "font": "Liberation Sans", "fontWeight": "bold", "fontSize": 12, "align": "left", "baseline": "middle"}, "encoding": {"text": {"field": "t"}}}
          ]
        }
      ],
      "spacing": 40,
      "bounds": "flush"
    }
  ]
}
